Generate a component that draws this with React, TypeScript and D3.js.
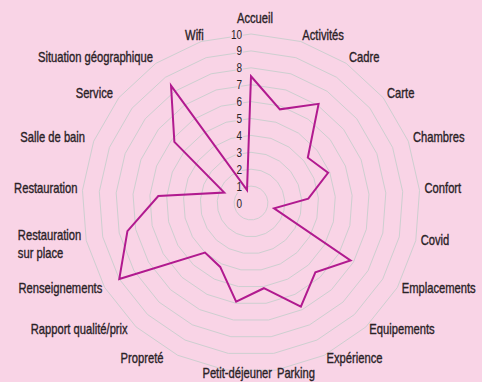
import * as d3 from "d3";
import { useEffect, useRef } from "react";

const categories = [
  "Accueil", "Activités", "Cadre", "Carte", "Chambres", "Confort", "Covid",
  "Emplacements", "Equipements", "Expérience", "Parking", "Petit-déjeuner",
  "Propreté", "Rapport qualité/prix", "Renseignements", "Restauration sur place",
  "Restauration", "Salle de bain", "Service", "Situation géographique", "Wifi",
];
const scores = [
  7.5, 5.8, 7.1, 4.3, 4.9, 3.4, 1.4,
  6.8, 5.6, 6.8, 5.1, 5.9,
  4.2, 4.0, 9.0, 7.5,
  5.5, 1.7, 5.8, 8.4, 0.8,
];
const tickValues = [0, 1, 2, 3, 4, 5, 6, 7, 8, 9, 10];
const labelLines: Record<string, string[]> = {
  "Restauration sur place": ["Restauration", "sur place"],
};

// small hand tweaks so the labels sit where the original put them
const labelNudge: Record<string, number> = {
  "Accueil": 4,
  "Petit-déjeuner": 47,
  "Propreté": -12,
  "Rapport qualité/prix": -5,
  "Renseignements": 2,
  "Salle de bain": -4,
  "Service": -2,
  "Wifi": 4,
};

export default function App() {
  const ref = useRef<SVGSVGElement>(null);

  useEffect(() => {
    const width = 482;
    const height = 382;
    const cx = 251;
    const cy = 203;
    const outer = 169;
    const font = "'Liberation Sans', Arial, sans-serif";
    const squeeze = 0.8; // condensed look
    const bg = "#f9d4e6";
    const ink = "#2a2226";
    const n = categories.length;

    const svg = d3.select(ref.current);
    svg.selectAll("*").remove();
    svg.attr("width", width).attr("height", height);

    svg.append("rect")
      .attr("width", width)
      .attr("height", height)
      .attr("fill", bg);

    const g = svg.append("g").attr("transform", `translate(${cx},${cy})`);

    const angle = d3.scaleLinear().domain([0, n]).range([0, 2 * Math.PI]);
    const r = d3.scaleLinear().domain([0, 10]).range([0, outer]);

    // grid rings (polygons)
    const ring = d3.lineRadial<number>()
      .angle((_, i) => angle(i))
      .radius(d => r(d))
      .curve(d3.curveLinearClosed);

    g.selectAll("path.grid")
      .data(tickValues.filter(t => t > 0))
      .join("path")
      .attr("class", "grid")
      .attr("d", t => ring(categories.map(() => t)))
      .attr("fill", "none")
      .attr("stroke", "#cdcfd0")
      .attr("stroke-width", 1);

    // tick labels
    g.selectAll("text.tick")
      .data(tickValues)
      .join("text")
      .attr("class", "tick")
      .attr("transform", t => `translate(-9,${-r(t)}) scale(${squeeze},1)`)
      .attr("dy", "0.36em")
      .attr("text-anchor", "end")
      .attr("font-family", font)
      .attr("font-size", 12.5)
      .attr("fill", ink)
      .attr("stroke", bg)
      .attr("stroke-width", 3)
      .attr("paint-order", "stroke")
      .text(t => t);

    // data line
    const line = d3.lineRadial<number>()
      .angle((_, i) => angle(i))
      .radius(d => r(d))
      .curve(d3.curveLinearClosed);

    g.append("path")
      .datum(scores)
      .attr("d", line)
      .attr("fill", "none")
      .attr("stroke", "#b11a8f")
      .attr("stroke-width", 2)
      .attr("stroke-linejoin", "miter");

    // category labels
    const labelR = outer + 5;
    categories.forEach((name, i) => {
      const a = angle(i);
      const px = Math.sin(a) * labelR + (labelNudge[name] || 0);
      const py = -Math.cos(a) * labelR;
      const deg = (a * 180) / Math.PI;
      const lines = labelLines[name] || [name];
      const leftSide = deg > 180;

      const t = g.append("text")
        .attr("font-family", font)
        .attr("font-size", 14)
        .attr("fill", ink)
        .attr("stroke", ink)
        .attr("stroke-width", 0.35);

      if (deg === 0) {
        t.attr("text-anchor", "middle")
          .attr("transform", `translate(${px},${py - 6}) scale(${squeeze},1)`)
          .text(name);
        return;
      }

      if (lines.length === 1) {
        const anchor = name === "Petit-déjeuner" || leftSide ? "end" : "start";
        t.attr("text-anchor", anchor)
          .attr("transform", `translate(${px},${py + 3}) scale(${squeeze},1)`)
          .text(name);
      } else {
        // left aligned block whose right edge sits at the anchor point
        lines.forEach((ln, k) => {
          t.append("tspan")
            .attr("x", 0)
            .attr("y", k * 18.5)
            .text(ln);
        });
        const w = (t.node() as SVGTextElement).getBBox().width * squeeze;
        const x0 = leftSide ? px - w : px;
        t.attr("transform", `translate(${x0},${py - 2}) scale(${squeeze},1)`);
      }
    });
  }, []);

  return (
    <svg
      ref={ref}
      style={{ position: "absolute", left: 0, top: 0, display: "block" }}
    />
  );
}
